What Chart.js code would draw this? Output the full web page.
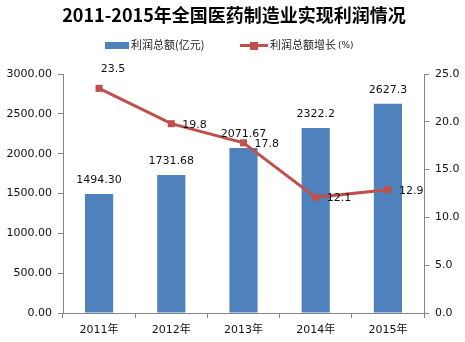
<!DOCTYPE html>
<html>
<head>
<meta charset="utf-8">
<script src="https://cdn.jsdelivr.net/npm/chart.js@4.4.0/dist/chart.umd.min.js"></script>
<style>
    html, body { margin: 0; padding: 0; background: #fff; }
    #wrap { width: 465px; height: 342px; position: relative; }
</style>
</head>
<body>
<div id="wrap"><canvas id="chart1" width="465" height="342"></canvas></div>
<script>
const years = ['2011年', '2012年', '2013年', '2014年', '2015年'];
const profit = [1494.30, 1731.68, 2071.67, 2322.2, 2627.3];
const profitDecimals = [2, 2, 2, 1, 1];
const growth = [23.5, 19.8, 17.8, 12.1, 12.9];
const leftTicks = [0, 500, 1000, 1500, 2000, 2500, 3000];
const rightTicks = [0, 5, 10, 15, 20, 25];

const barColor = '#4F81BD';
const lineColor = '#C0504D';
const axisColor = '#868686';
const font = '"DejaVu Sans", "Noto Sans CJK SC", sans-serif';

// title, legend and value labels
const decorPlugin = {
    id: 'decor',
    afterDatasetsDraw: function (chart) {
        const ctx = chart.ctx;
        ctx.save();

        ctx.fillStyle = '#000';
        ctx.font = 'bold 18px "Noto Sans CJK SC", sans-serif';
        ctx.textAlign = 'center';
        ctx.textBaseline = 'middle';
        ctx.fillText('2011-2015年全国医药制造业实现利润情况', 234, 15);

        // legend
        ctx.font = '11px "Noto Sans CJK SC", sans-serif';
        ctx.textAlign = 'left';
        ctx.fillStyle = barColor;
        ctx.fillRect(105, 42, 24, 7);
        ctx.fillStyle = '#222';
        ctx.fillText('利润总额(亿元)', 131, 45);
        ctx.strokeStyle = lineColor;
        ctx.lineWidth = 3;
        ctx.beginPath();
        ctx.moveTo(240, 45.5);
        ctx.lineTo(268, 45.5);
        ctx.stroke();
        ctx.fillStyle = lineColor;
        ctx.fillRect(250, 42, 8, 8);
        ctx.fillStyle = '#222';
        ctx.fillText('利润总额增长', 270, 45);
        ctx.font = '9px "DejaVu Sans", sans-serif';
        ctx.fillText('(%)', 338, 46);

        // value labels
        ctx.font = '11px ' + font;
        ctx.fillStyle = '#111';
        const bars = chart.getDatasetMeta(0).data;
        bars.forEach(function (bar, i) {
            ctx.textAlign = 'center';
            ctx.fillText(profit[i].toFixed(profitDecimals[i]), bar.x, bar.y - 14);
        });
        const points = chart.getDatasetMeta(1).data;
        points.forEach(function (pt, i) {
            if (i === 0) {
                ctx.textAlign = 'center';
                ctx.fillText(growth[i].toFixed(1), pt.x + 14, pt.y - 19);
            } else {
                ctx.textAlign = 'left';
                ctx.fillText(growth[i].toFixed(1), pt.x + 11, pt.y + 1);
            }
        });
        ctx.restore();
    }
};

const myChart = new Chart(document.getElementById('chart1'), {
    type: 'bar',
    data: {
        labels: years,
        datasets: [{
            label: '利润总额(亿元)',
            data: profit,
            backgroundColor: barColor,
            yAxisID: 'y',
            barPercentage: 0.39,
            categoryPercentage: 1,
            order: 2
        }, {
            type: 'line',
            label: '利润总额增长(%)',
            data: growth,
            borderColor: lineColor,
            backgroundColor: lineColor,
            borderWidth: 3,
            pointStyle: 'rect',
            pointRadius: 5,
            pointBorderWidth: 0,
            tension: 0,
            yAxisID: 'y1',
            order: 1
        }]
    },
    options: {
        responsive: false,
        animation: false,
        devicePixelRatio: 1,
        layout: { padding: { top: 74, left: 0, right: 0, bottom: 0 } },
        plugins: {
            legend: { display: false },
            title: { display: false },
            tooltip: { enabled: false }
        },
        scales: {
            x: {
                grid: { display: true, drawOnChartArea: false, tickLength: 5, color: axisColor },
                border: { color: axisColor },
                ticks: { color: '#111', font: { size: 11, family: font }, padding: 6 },
                afterFit: function (scale) { scale.height = 29; }
            },
            y: {
                position: 'left',
                min: 0,
                max: 3000,
                afterBuildTicks: function (scale) {
                    scale.ticks = leftTicks.map(function (v) { return { value: v }; });
                },
                grid: { display: true, drawOnChartArea: false, tickLength: 5, color: axisColor },
                border: { color: axisColor },
                ticks: {
                    color: '#111',
                    font: { size: 11, family: font },
                    padding: 6,
                    callback: function (v) { return v.toFixed(2); }
                },
                afterFit: function (scale) { scale.width = 63; }
            },
            y1: {
                position: 'right',
                min: 0,
                max: 25,
                afterBuildTicks: function (scale) {
                    scale.ticks = rightTicks.map(function (v) { return { value: v }; });
                },
                grid: { display: true, drawOnChartArea: false, tickLength: 5, color: axisColor },
                border: { color: axisColor },
                ticks: {
                    color: '#111',
                    font: { size: 11, family: font },
                    padding: 6,
                    callback: function (v) { return v.toFixed(1); }
                },
                afterFit: function (scale) { scale.width = 41; }
            }
        }
    },
    plugins: [decorPlugin]
});
</script>
</body>
</html>
